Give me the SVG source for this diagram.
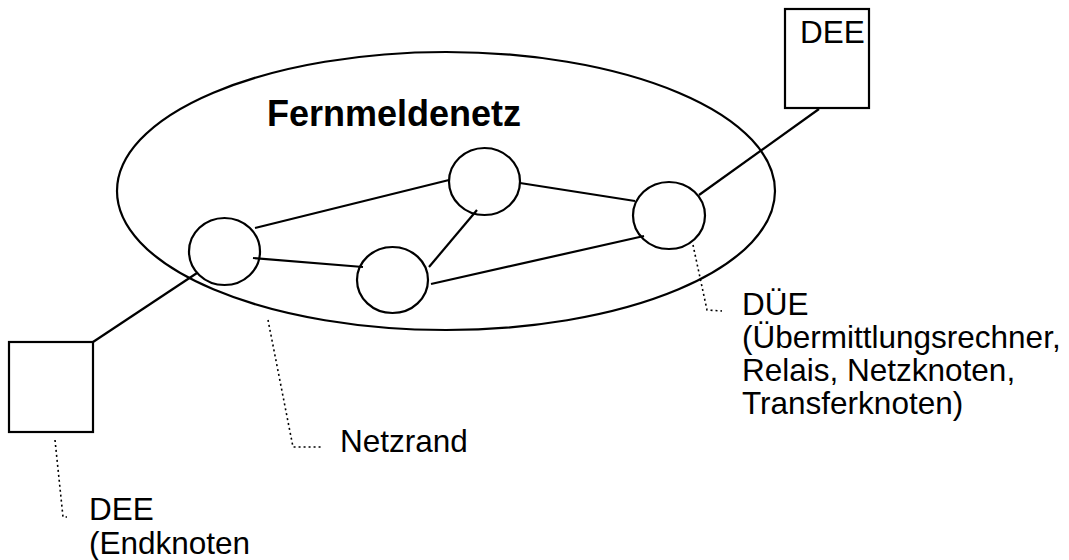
<svg xmlns="http://www.w3.org/2000/svg" width="1069" height="560" viewBox="0 0 1069 560">
<style>
.s{fill:none;stroke:#000;stroke-width:2.2}
.d{fill:none;stroke:#000;stroke-width:1.6;stroke-dasharray:2 3}
.t{font-family:"Liberation Sans",Arial,sans-serif;font-size:31.5px;fill:#000}
.b{font-family:"Liberation Sans",Arial,sans-serif;font-size:36px;font-weight:bold;fill:#000}
</style>
<rect width="1069" height="560" fill="#fff"/>
<g id="netz">
<ellipse class="s" cx="446" cy="191" rx="329" ry="139"/>
<text class="b" x="267" y="126">Fernmeldenetz</text>
</g>
<g id="connectors">
<line class="s" x1="255" y1="228" x2="449" y2="180"/>
<line class="s" x1="520" y1="183" x2="635" y2="201"/>
<line class="s" x1="253" y1="258" x2="363" y2="267"/>
<line class="s" x1="429" y1="267" x2="477" y2="210"/>
<line class="s" x1="431" y1="284" x2="644" y2="236"/>
<line class="s" x1="197" y1="273" x2="93" y2="342"/>
<line class="s" x1="699" y1="195" x2="819" y2="109"/>
<polyline class="d" points="55,440 63,517 67,517"/>
<polyline class="d" points="268,320 293,447 322,447"/>
<polyline class="d" points="693,245 707,310 722,311"/>
</g>
<g id="k1"><ellipse class="s" cx="224.5" cy="251.5" rx="35.5" ry="33.5"/></g>
<g id="k2"><ellipse class="s" cx="392.5" cy="280" rx="35.5" ry="33"/></g>
<g id="k3"><ellipse class="s" cx="484.5" cy="181.5" rx="35.5" ry="33.5"/></g>
<g id="k4"><ellipse class="s" cx="669" cy="215.5" rx="36" ry="33.5"/></g>
<g id="dee-top">
<rect class="s" x="785" y="9" width="84" height="99"/>
<text class="t" x="800" y="43">DEE</text>
</g>
<g id="dee-left">
<rect class="s" x="9" y="342" width="84" height="90"/>
</g>
<g id="label-dee-left">
<text class="t" x="89" y="520">DEE</text>
<text class="t" x="89" y="554">(Endknoten</text>
</g>
<g id="label-netzrand">
<text class="t" x="340" y="452">Netzrand</text>
</g>
<g id="label-due">
<text class="t" x="742" y="315">DÜE</text>
<text class="t" x="742" y="348">(Übermittlungsrechner,</text>
<text class="t" x="742" y="381">Relais, Netzknoten,</text>
<text class="t" x="742" y="414">Transferknoten)</text>
</g>
</svg>
